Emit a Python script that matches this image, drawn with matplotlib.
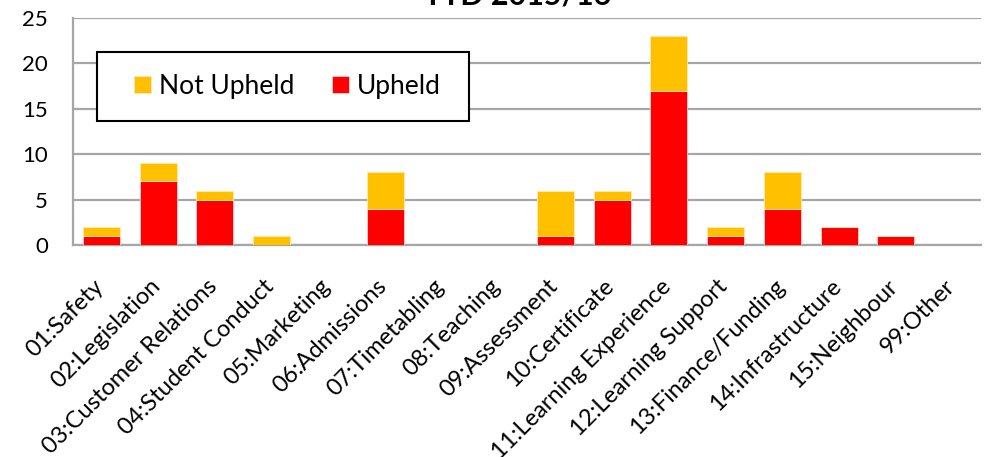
import matplotlib
matplotlib.use("Agg")
import matplotlib.pyplot as plt
from matplotlib.patches import Rectangle
from matplotlib.transforms import ScaledTranslation
import numpy as np

categories = ["01:Safety", "02:Legislation", "03:Customer Relations", "04:Student Conduct",
              "05:Marketing", "06:Admissions", "07:Timetabling", "08:Teaching",
              "09:Assessment", "10:Certificate", "11:Learning Experience", "12:Learning Support",
              "13:Finance/Funding", "14:Infrastructure", "15:Neighbour", "99:Other"]
upheld = [1, 7, 5, 0, 0, 4, 0, 0, 1, 5, 17, 1, 4, 2, 1, 0]
not_upheld = [1, 2, 1, 1, 0, 4, 0, 0, 5, 1, 6, 1, 4, 0, 0, 0]
y_ticks = [0, 5, 10, 15, 20, 25]
title = "YTD 2015/16"

plt.rcParams["font.family"] = ["Lato", "DejaVu Sans"]

W, H = 989, 457
fig = plt.figure(figsize=(W / 100, H / 100), dpi=100)
ax_l, ax_t, ax_r, ax_b = 73, 18, 981, 245
ax = fig.add_axes([ax_l / W, 1 - ax_b / H, (ax_r - ax_l) / W, (ax_b - ax_t) / H])


def px_to_axes(px, py):
    return (px - ax_l) / (ax_r - ax_l), 1 - (py - ax_t) / (ax_b - ax_t)


x = np.arange(len(categories))
w = 0.65
b_up = ax.bar(x, upheld, w, color="#FF0000", edgecolor="#FFD0D0", linewidth=0.6, zorder=3, label="Upheld")
b_nu = ax.bar(x, not_upheld, w, bottom=upheld, color="#FFC000", edgecolor="#FFE8B0", linewidth=0.6,
              zorder=3, label="Not Upheld")

ax.set_xlim(-0.5, len(categories) - 0.5)
ax.set_ylim(0, 25)
ax.set_yticks(y_ticks)
ax.yaxis.grid(True, color="#A6A6A6", linewidth=1.6, zorder=0)
ax.set_axisbelow(True)
for s in ["top", "right"]:
    ax.spines[s].set_visible(False)
for s in ["left", "bottom"]:
    ax.spines[s].set_color("#A6A6A6")
    ax.spines[s].set_linewidth(1.6)

ax.tick_params(axis="y", length=0, pad=18, labelsize=16)
ax.tick_params(axis="x", length=0, pad=22, labelsize=17)
ax.set_xticks(x)
ax.set_xticklabels(categories, rotation=45, ha="right")
shift = ScaledTranslation(6 / 100, 0, fig.dpi_scale_trans)
for lab in ax.get_xticklabels():
    lab.set_transform(lab.get_transform() + shift)

# legend frame
x0, y0 = px_to_axes(97, 121)
x1, y1 = px_to_axes(469, 52)
ax.add_patch(Rectangle((x0, y0), x1 - x0, y1 - y0, transform=ax.transAxes, facecolor="white",
                       edgecolor="black", linewidth=1.5, zorder=5, clip_on=False))
lx, ly = px_to_axes(134, 86.5)
leg = ax.legend(handles=[b_nu, b_up], labels=["Not Upheld", "Upheld"], ncol=2,
                loc="center left", bbox_to_anchor=(lx, ly), frameon=False, fontsize=19,
                handlelength=0.64, handleheight=0.64, columnspacing=1.45,
                borderpad=0, borderaxespad=0, handletextpad=0.3)
leg.set_zorder(6)

fig.text(517 / W, 1 - 4 / H, title, ha="center", va="baseline", fontsize=22, fontweight="bold")

fig.savefig("out.png", dpi=100)
